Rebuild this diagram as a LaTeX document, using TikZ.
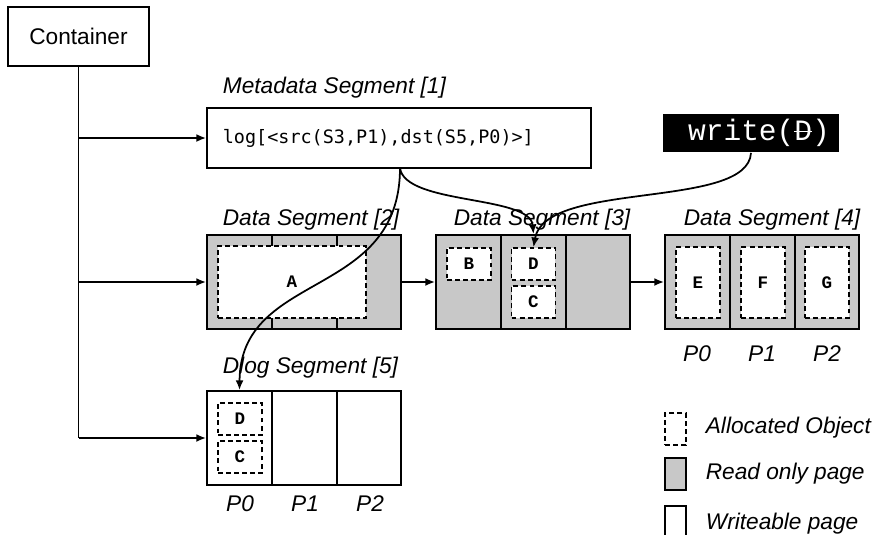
\documentclass[tikz,border=0pt]{standalone}
\usepackage{fontspec}
\setmainfont{Liberation Sans}
\setmonofont{DejaVu Sans Mono}
\newfontfamily\courfont{Liberation Mono}
\usetikzlibrary{positioning,arrows.meta,calc}
\definecolor{rogray}{RGB}{200,200,200}

\begin{document}
\begin{tikzpicture}[x=0.02cm,y=-0.02cm,>={Latex[length=5.5pt,width=4.5pt]},
  line width=1pt,
  lbl/.style={font=\fontsize{12.9}{15}\selectfont\itshape,inner sep=0pt,anchor=west},
  plbl/.style={font=\fontsize{12.9}{15}\selectfont\itshape,inner sep=0pt},
  page/.style={draw,line width=1.1pt,inner sep=0pt,minimum width=1.3cm,minimum height=1.88cm},
  rpage/.style={page,fill=rogray},
  wpage/.style={page,fill=white},
  obj/.style={draw,dash pattern=on 2.8pt off 1.8pt,line width=0.9pt,fill=white,inner sep=0pt,
    font=\courfont\bfseries\fontsize{10}{12}\selectfont,minimum width=0.88cm,minimum height=0.64cm},
  tallobj/.style={obj,minimum height=1.42cm}]
  \useasboundingbox (0,0) rectangle (877,535);

  % container and metadata
  \node[draw,line width=1.1pt,minimum width=2.82cm,minimum height=1.18cm,inner sep=0pt,
    font=\fontsize{12.9}{15}\selectfont] (cont) at (78.5,36.5) {Container};
  \node[draw,line width=1.1pt,minimum width=7.68cm,minimum height=1.2cm,inner sep=0pt] (meta) at (399,138) {};
  \node[anchor=west,inner sep=0pt,font=\ttfamily\fontsize{10.5}{12}\selectfont] (logtxt) at (222,138) {log[<src(S3,P1),dst(S5,P0)>]};
  \node[lbl] (metalbl) at (222,88) {Metadata Segment [1]};

  \node[fill=black,minimum width=3.52cm,minimum height=0.76cm,inner sep=0pt,text=white,
    font=\courfont\fontsize{16.8}{20}\selectfont] (wr) at (751,133)
    {\hspace*{0.32cm}write(\makebox[0pt][l]{D}\raisebox{0.3em}{\color{white}\rule{0.6em}{0.6pt}})};

  % data segment 2
  \node[lbl] (s2lbl) at (222,220) {Data Segment [2]};
  \node[rpage] (s2p0) at (239.5,282) {};
  \node[rpage] (s2p1) at (304.5,282) {};
  \node[rpage,minimum width=1.28cm] (s2p2) at (369,282) {};
  \node[obj,minimum width=2.96cm,minimum height=1.44cm] (oA) at (292,282) {A};

  % data segment 3
  \node[lbl] (s3lbl) at (453,220) {Data Segment [3]};
  \node[rpage] (s3p0) at (468.5,282) {};
  \node[rpage] (s3p1) at (533.5,282) {};
  \node[rpage,minimum width=1.28cm] (s3p2) at (598,282) {};
  \node[obj] (oB) at (469,264) {B};
  \node[obj] (oD) at (533.5,264) {D};
  \node[obj] (oC) at (533.5,302) {C};

  % data segment 4
  \node[lbl] (s4lbl) at (683,220) {Data Segment [4]};
  \node[rpage] (s4p0) at (697.5,282) {};
  \node[rpage] (s4p1) at (762.5,282) {};
  \node[rpage,minimum width=1.28cm] (s4p2) at (827,282) {};
  \node[tallobj] (oE) at (698,282.5) {E};
  \node[tallobj] (oF) at (763,282.5) {F};
  \node[tallobj] (oG) at (827,282.5) {G};
  \node[plbl] (p40) at (697,354) {P0};
  \node[plbl] (p41) at (762,354) {P1};
  \node[plbl] (p42) at (827,354) {P2};

  % dlog segment 5
  \node[lbl] (s5lbl) at (222,368) {Dlog Segment [5]};
  \node[wpage] (s5p0) at (239.5,438) {};
  \node[wpage] (s5p1) at (304.5,438) {};
  \node[wpage,minimum width=1.28cm] (s5p2) at (369,438) {};
  \node[obj] (lD) at (240,419) {D};
  \node[obj] (lC) at (240,457) {C};
  \node[plbl] (p50) at (240,504) {P0};
  \node[plbl] (p51) at (305,504) {P1};
  \node[plbl] (p52) at (370,504) {P2};

  % legend
  \node[obj,minimum width=0.42cm] (legobj) at (675.5,429) {};
  \node[rpage,minimum width=0.42cm,minimum height=0.64cm] (legro) at (675.5,474) {};
  \node[wpage,minimum width=0.42cm,minimum height=0.64cm] (legw) at (675.5,522) {};
  \node[lbl] at (705,428) {Allocated Object};
  \node[lbl] at (705,474) {Read only page};
  \node[lbl] at (705,524) {Writeable page};

  % container links
  \draw (cont.south) -- (cont.south |- s5p0.west);
  \draw[->] (cont.south |- meta.west) -- (meta.west);
  \draw[->] (cont.south |- s2p0.west) -- (s2p0.west);
  \draw[->] (cont.south |- s5p0.west) -- (s5p0.west);
  \draw[->] (s2p2.east) -- (s3p0.west);
  \draw[->] (s3p2.east) -- (s4p0.west);

  % moves
  \coordinate (src) at (400,168);
  \draw[->] (src) .. controls (400,300) and (240,270) .. (s5p0.north);
  \draw[->] (src) .. controls (405,205) and (530,195) .. (s3p1.north);
  \draw[->] (wr.south) .. controls (748,210) and (545,180) .. (oD.north);
\end{tikzpicture}
\end{document}
